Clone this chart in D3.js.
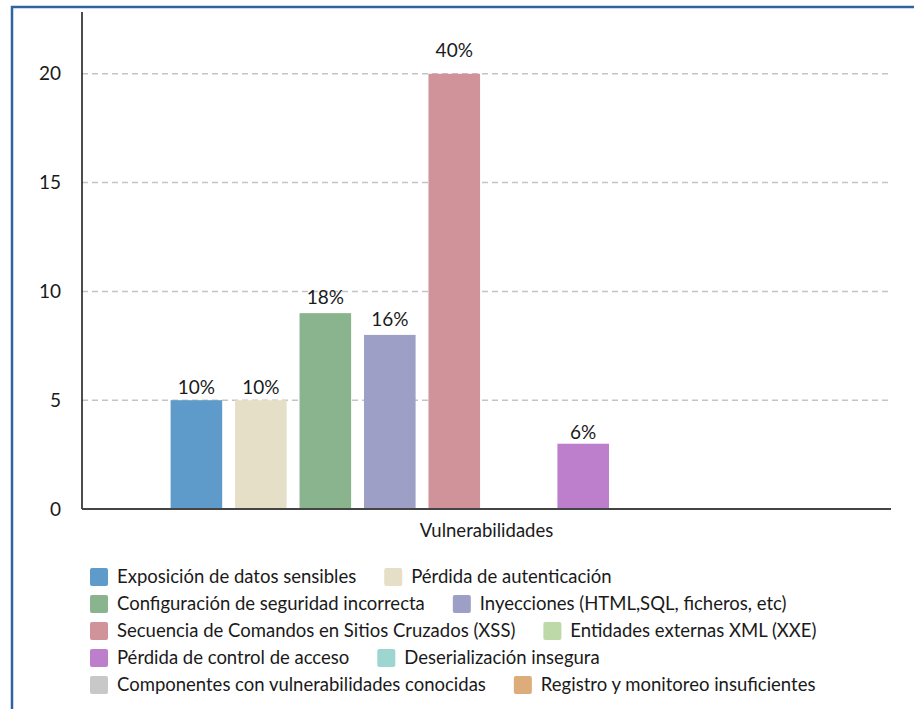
<!DOCTYPE html>
<html>
<head>
<meta charset="utf-8">
<script src="https://cdn.jsdelivr.net/npm/d3@7"></script>
<style>
  html, body { margin: 0; padding: 0; background: #fff; }
  svg { display: block; font-family: Lato, "Open Sans", sans-serif; }
</style>
</head>
<body>
<svg id="chart" width="914" height="709"></svg>
<script>
// Vulnerability counts by category (OWASP-style list)
const group = ["Vulnerabilidades"];
const categories = [
  "Exposición de datos sensibles",
  "Pérdida de autenticación",
  "Configuración de seguridad incorrecta",
  "Inyecciones (HTML,SQL, ficheros, etc)",
  "Secuencia de Comandos en Sitios Cruzados (XSS)",
  "Entidades externas XML (XXE)",
  "Pérdida de control de acceso",
  "Deserialización insegura",
  "Componentes con vulnerabilidades conocidas",
  "Registro y monitoreo insuficientes"
];
const values = [5, 5, 9, 8, 20, 0, 3, 0, 0, 0];
const percentLabels = ["10%", "10%", "18%", "16%", "40%", "", "6%", "", "", ""];
const colors = ["#5e9bca", "#e6dfc8", "#8ab48e", "#9d9fc6", "#cf9399",
                "#bcd9a7", "#bd7fcc", "#9dd5d0", "#c8c8c8", "#dcad7b"];
const yTicks = [0, 5, 10, 15, 20];

const svg = d3.select("#chart");
const textColor = "#1a1a1a";

// outer frame
svg.append("rect")
  .attr("x", 12).attr("y", 7)
  .attr("width", 960).attr("height", 760)
  .attr("fill", "none")
  .attr("stroke", "#2f64a0")
  .attr("stroke-width", 2.5);

const plot = { left: 82, right: 891, top: 12, bottom: 509 };

const y = d3.scaleLinear().domain([0, 22.84]).range([plot.bottom, plot.top]);
// value labels sit on a slightly steeper scale than the bars
const yLabel = d3.scaleLinear().domain([0, 20]).range([plot.bottom - 3, 57]);
const x0 = d3.scaleBand().domain(group).range([plot.left, plot.right]).padding(0.123);
const x1 = d3.scaleBand().domain(categories).range([0, x0.bandwidth()])
  .paddingInner(0.2).paddingOuter(0);

// gridlines
svg.append("g")
  .selectAll("line")
  .data(yTicks.filter(d => d > 0))
  .join("line")
  .attr("x1", plot.left).attr("x2", plot.right)
  .attr("y1", d => y(d)).attr("y2", d => y(d))
  .attr("stroke", "#c4c4c4")
  .attr("stroke-width", 1.5)
  .attr("stroke-dasharray", "6,4");

// bars
const bars = svg.append("g").attr("transform", `translate(${x0(group[0])},0)`);
const barData = categories.map((c, i) => ({ c, v: values[i], color: colors[i], label: percentLabels[i] }));
bars.selectAll("rect")
  .data(barData.filter(d => d.v > 0))
  .join("rect")
  .attr("x", d => x1(d.c))
  .attr("y", d => y(d.v))
  .attr("width", x1.bandwidth())
  .attr("height", d => y(0) - y(d.v))
  .attr("fill", d => d.color);

bars.selectAll("text")
  .data(barData.filter(d => d.v > 0))
  .join("text")
  .attr("x", d => x1(d.c) + x1.bandwidth() / 2)
  .attr("y", d => yLabel(d.v))
  .attr("text-anchor", "middle")
  .attr("font-size", 19)
  .attr("fill", textColor)
  .text(d => d.label);

// y axis
const yAxis = svg.append("g")
  .attr("transform", `translate(${plot.left},0)`)
  .call(d3.axisLeft(y).tickValues(yTicks).tickSize(0).tickPadding(21));
yAxis.select(".domain").remove();
yAxis.selectAll("text").attr("font-size", 19).attr("fill", textColor)
  .attr("font-family", "Lato, sans-serif");
svg.append("line")
  .attr("x1", plot.left).attr("x2", plot.left)
  .attr("y1", plot.top).attr("y2", plot.bottom)
  .attr("stroke", "#111").attr("stroke-width", 1.5);

// x axis
const xAxis = svg.append("g")
  .attr("transform", `translate(0,${plot.bottom})`)
  .call(d3.axisBottom(x0).tickSize(0).tickPadding(15));
xAxis.select(".domain").remove();
xAxis.selectAll("text").attr("font-size", 18.5).attr("fill", textColor)
  .attr("font-family", "Lato, sans-serif");
svg.append("line")
  .attr("x1", plot.left).attr("x2", plot.right)
  .attr("y1", plot.bottom).attr("y2", plot.bottom)
  .attr("stroke", "#444").attr("stroke-width", 2);

// legend (flowing rows)
const legend = svg.append("g");
const lg = { x: 90, y: 568, maxX: 895, rowH: 27, sw: 18, textGap: 9, itemGap: 28 };
let cx = lg.x, cy = lg.y;
categories.forEach((c, i) => {
  const item = legend.append("g");
  item.append("rect")
    .attr("width", lg.sw).attr("height", lg.sw)
    .attr("rx", 2)
    .attr("fill", colors[i]);
  const t = item.append("text")
    .attr("x", lg.sw + lg.textGap)
    .attr("y", lg.sw / 2)
    .attr("dy", "0.35em")
    .attr("font-size", 18.5)
    .attr("fill", textColor)
    .text(c);
  const w = lg.sw + lg.textGap + t.node().getComputedTextLength();
  if (cx > lg.x && cx + w > lg.maxX) { cx = lg.x; cy += lg.rowH; }
  item.attr("transform", `translate(${cx},${cy})`);
  cx += w + lg.itemGap;
});
</script>
</body>
</html>
